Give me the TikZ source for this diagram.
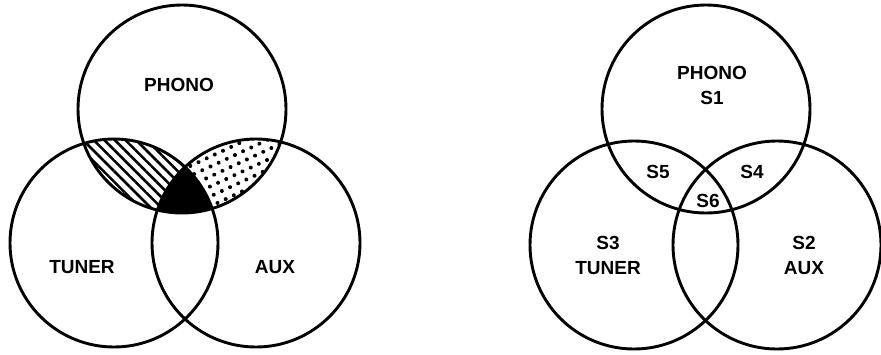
\documentclass[tikz,border=0pt]{standalone}
\usepackage{fontspec}
\setmainfont{Liberation Sans}
\usetikzlibrary{patterns.meta}
\tikzset{
  % Venn circles
  venn/.style={line width=2.9pt, draw=black},
  % Shading of the overlaps
  hatchfill/.style={pattern={Lines[angle=-45, distance=7.5pt, line width=2.6pt]}},
  dotfill/.style={pattern={Dots[angle=25, distance=9pt, radius=2pt]}},
  % Text in the circles
  vlabel/.style={font=\fontsize{19}{25}\selectfont\bfseries, align=center, inner sep=0pt},
}
\def\vr{104pt}

\begin{document}
\begin{tikzpicture}[x=1pt, y=-1pt]
  \useasboundingbox (0,0) rectangle (881,354);

  % left diagram centres
  \coordinate (phonoL) at (182,109);
  \coordinate (tunerL) at (114,243);
  \coordinate (auxL) at (256,243);

  % right diagram centres
  \coordinate (phonoR) at (706,109);
  \coordinate (tunerR) at (634,245);
  \coordinate (auxR) at (777,245);

  % hatched: phono and tuner
  \begin{scope}
    \clip (phonoL) circle[radius=\vr];
    \fill[hatchfill] (tunerL) circle[radius=\vr];
  \end{scope}
  % dotted: phono and aux
  \begin{scope}
    \clip (phonoL) circle[radius=\vr];
    \fill[dotfill] (auxL) circle[radius=\vr];
  \end{scope}
  % black: all three
  \begin{scope}
    \clip (phonoL) circle[radius=\vr];
    \clip (tunerL) circle[radius=\vr];
    \fill[black] (auxL) circle[radius=\vr];
  \end{scope}

  \draw[venn] (phonoL) circle[radius=\vr];
  \draw[venn] (tunerL) circle[radius=\vr];
  \draw[venn] (auxL) circle[radius=\vr];

  \node[vlabel] (phonoLtxt) at (179,85) {PHONO};
  \node[vlabel] (tunerLtxt) at (82,267) {TUNER};
  \node[vlabel] (auxLtxt) at (275,267) {AUX};

  % right diagram
  \draw[venn] (phonoR) circle[radius=\vr];
  \draw[venn] (tunerR) circle[radius=\vr];
  \draw[venn] (auxR) circle[radius=\vr];

  \node[vlabel] (sone) at (712,85) {PHONO\\S1};
  \node[vlabel] (sthree) at (608,255) {S3\\TUNER};
  \node[vlabel] (stwo) at (804,255) {S2\\AUX};
  \node[vlabel] (sfive) at (658,172) {S5};
  \node[vlabel] (sfour) at (752,172) {S4};
  \node[vlabel] (ssix) at (708,201) {S6};

\end{tikzpicture}
\end{document}
